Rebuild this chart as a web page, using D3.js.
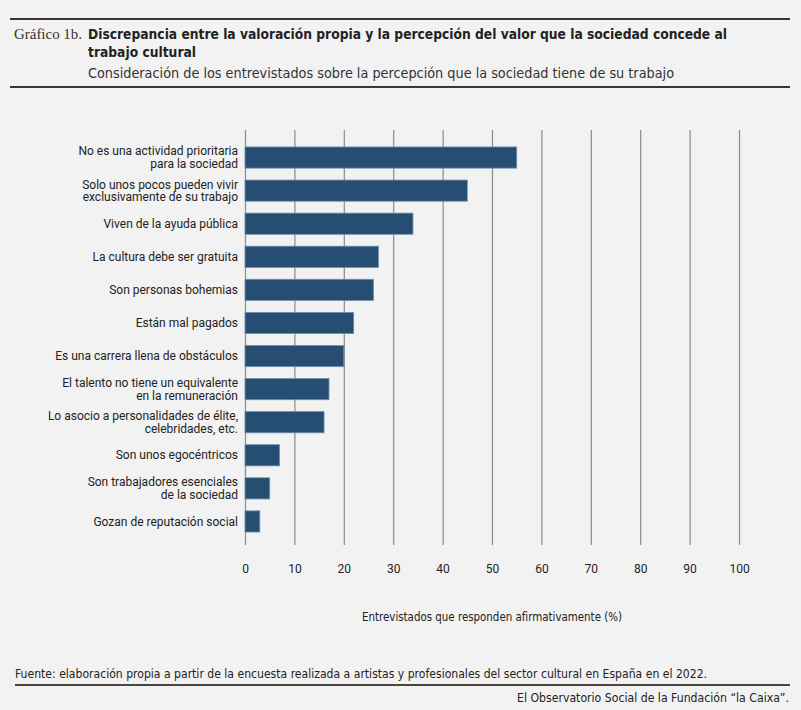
<!DOCTYPE html>
<html lang="es">
<head>
<meta charset="UTF-8">
<title>Gráfico 1b</title>
<script src="https://d3js.org/d3.v7.min.js"></script>
<style>
    body { margin: 0; background: #f2f2f2; }
    svg { display: block; }
    .cat { font: 12px Roboto, sans-serif; fill: #222; text-anchor: end; }
    .tick text { font: 12px Roboto, sans-serif; fill: #222; }
    .grid line { stroke: #8a8a8a; stroke-width: 1.2; }
    .grid path { display: none; }
    .bar { fill: #264e72; stroke: #6f8fae; stroke-width: 0.8; }
</style>
</head>
<body>
<script>
    // Data
    const categories = [
        "No es una actividad prioritaria|para la sociedad",
        "Solo unos pocos pueden vivir|exclusivamente de su trabajo",
        "Viven de la ayuda pública",
        "La cultura debe ser gratuita",
        "Son personas bohemias",
        "Están mal pagados",
        "Es una carrera llena de obstáculos",
        "El talento no tiene un equivalente|en la remuneración",
        "Lo asocio a personalidades de élite,|celebridades, etc.",
        "Son unos egocéntricos",
        "Son trabajadores esenciales|de la sociedad",
        "Gozan de reputación social"
    ];
    const values = [55, 45, 34, 27, 26, 22, 20, 17, 16, 7, 5, 3];
    const xTicks = [0, 10, 20, 30, 40, 50, 60, 70, 80, 90, 100];

    const W = 801, H = 710;
    const svg = d3.select("body").append("svg")
        .attr("width", W).attr("height", H);

    svg.append("rect").attr("width", W).attr("height", H).attr("fill", "#f2f2f2");

    const narrow = "'Liberation Sans Narrow', 'DejaVu Sans Condensed', sans-serif";

    // Header
    svg.append("line").attr("x1", 10).attr("x2", 790).attr("y1", 19).attr("y2", 19)
        .attr("stroke", "#3a3534").attr("stroke-width", 2);
    svg.append("text").attr("x", 14).attr("y", 39)
        .style("font", "15px 'Liberation Serif', serif").attr("fill", "#333")
        .attr("textLength", 68).attr("lengthAdjust", "spacingAndGlyphs")
        .text("Gráfico 1b.");
    svg.append("text").attr("x", 88).attr("y", 39)
        .style("font", "bold 14px " + narrow).attr("fill", "#222")
        .attr("textLength", 639).attr("lengthAdjust", "spacingAndGlyphs")
        .text("Discrepancia entre la valoración propia y la percepción del valor que la sociedad concede al");
    svg.append("text").attr("x", 88).attr("y", 57)
        .style("font", "bold 14px " + narrow).attr("fill", "#222")
        .attr("textLength", 108).attr("lengthAdjust", "spacingAndGlyphs")
        .text("trabajo cultural");
    svg.append("text").attr("x", 88).attr("y", 78)
        .style("font", "14px " + narrow).attr("fill", "#333")
        .attr("textLength", 586).attr("lengthAdjust", "spacingAndGlyphs")
        .text("Consideración de los entrevistados sobre la percepción que la sociedad tiene de su trabajo");
    svg.append("line").attr("x1", 10).attr("x2", 790).attr("y1", 87).attr("y2", 87)
        .attr("stroke", "#3a3534").attr("stroke-width", 2);

    // Scales
    const x = d3.scaleLinear().domain([0, 100]).range([245, 739]);
    const y = d3.scaleBand().domain(categories).range([141, 538]).paddingInner(0.36).paddingOuter(0.18);

    // Grid
    svg.append("g").attr("class", "grid")
        .attr("transform", "translate(0,130)")
        .call(d3.axisBottom(x).tickValues(xTicks).tickSize(415).tickFormat(""))
        .call(g => g.selectAll(".tick line").filter(d => d === 0).attr("stroke", "#555"));

    // Tick labels
    svg.append("g")
        .attr("transform", "translate(0,564)")
        .call(d3.axisBottom(x).tickValues(xTicks).tickSize(0).tickPadding(0))
        .call(g => g.select(".domain").remove());

    // Bars
    svg.selectAll(".bar")
        .data(values)
        .enter().append("rect")
        .attr("class", "bar")
        .attr("x", x(0))
        .attr("y", (d, i) => y(categories[i]))
        .attr("width", d => x(d) - x(0))
        .attr("height", y.bandwidth());

    // Category labels
    svg.selectAll(".cat")
        .data(categories)
        .enter().append("text")
        .attr("class", "cat")
        .attr("x", 238)
        .attr("y", d => y(d) + y.bandwidth() / 2)
        .each(function (d) {
            const lines = d.split("|");
            const t = d3.select(this);
            const lh = 12.5;
            lines.forEach((l, k) => {
                t.append("tspan")
                    .attr("x", 238)
                    .attr("dy", k === 0 ? (4.2 - (lines.length - 1) * lh / 2) : lh)
                    .text(l);
            });
        });

    // Axis title
    svg.append("text").attr("x", 492).attr("y", 621)
        .attr("text-anchor", "middle")
        .style("font", "12px " + narrow).attr("fill", "#222")
        .attr("textLength", 260).attr("lengthAdjust", "spacingAndGlyphs")
        .text("Entrevistados que responden afirmativamente (%)");

    // Footer
    svg.append("text").attr("x", 15).attr("y", 678)
        .style("font", "12px " + narrow).attr("fill", "#222")
        .attr("textLength", 692).attr("lengthAdjust", "spacingAndGlyphs")
        .text("Fuente: elaboración propia a partir de la encuesta realizada a artistas y profesionales del sector cultural en España en el 2022.");
    svg.append("line").attr("x1", 15).attr("x2", 790).attr("y1", 685).attr("y2", 685)
        .attr("stroke", "#4a4442").attr("stroke-width", 2);
    svg.append("text").attr("x", 789).attr("y", 702)
        .attr("text-anchor", "end")
        .style("font", "12px " + narrow).attr("fill", "#222")
        .attr("textLength", 272).attr("lengthAdjust", "spacingAndGlyphs")
        .text("El Observatorio Social de la Fundación “la Caixa”.");
</script>
</body>
</html>
